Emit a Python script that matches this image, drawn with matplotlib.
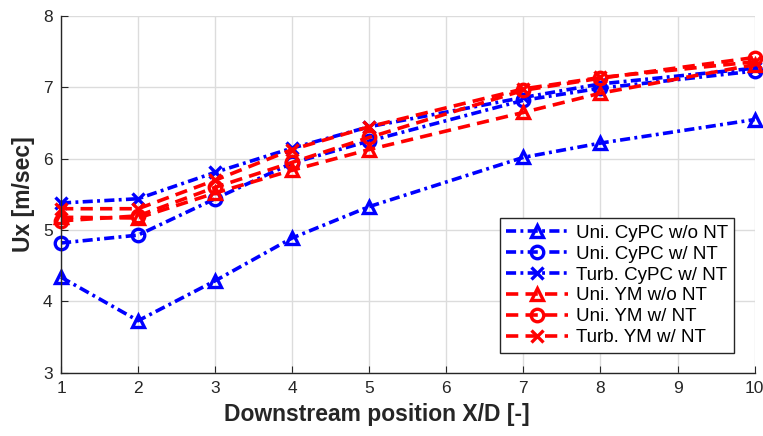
import matplotlib
matplotlib.use("Agg")
import matplotlib.pyplot as plt

plt.rcParams['font.family'] = ['Liberation Sans', 'DejaVu Sans']

# downstream positions X/D
x_pos = [1, 2, 3, 4, 5, 7, 8, 10]

# CyPC model (blue, dash-dot)
uni_cypc_wo_nt = [4.34, 3.73, 4.29, 4.89, 5.33, 6.02, 6.22, 6.55]
uni_cypc_w_nt = [4.82, 4.93, 5.44, 5.94, 6.25, 6.82, 6.99, 7.23]
turb_cypc_w_nt = [5.38, 5.44, 5.81, 6.15, 6.45, 6.86, 7.05, 7.27]

# YM model (red, dashed)
uni_ym_wo_nt = [5.18, 5.17, 5.52, 5.84, 6.13, 6.65, 6.92, 7.32]
uni_ym_w_nt = [5.13, 5.20, 5.60, 5.95, 6.30, 6.96, 7.13, 7.42]
turb_ym_w_nt = [5.30, 5.30, 5.70, 6.13, 6.45, 6.98, 7.14, 7.36]

dashdot = (0, (2.8, 1.2, 0.8, 1.2))
dashed = (0, (3.4, 2.0))

series = [
    ("Uni. CyPC w/o NT", uni_cypc_wo_nt, 'blue', dashdot, '^'),
    ("Uni. CyPC w/ NT", uni_cypc_w_nt, 'blue', dashdot, 'o'),
    ("Turb. CyPC w/ NT", turb_cypc_w_nt, 'blue', dashdot, 'x'),
    ("Uni. YM w/o NT", uni_ym_wo_nt, 'red', dashed, '^'),
    ("Uni. YM w/ NT", uni_ym_w_nt, 'red', dashed, 'o'),
    ("Turb. YM w/ NT", turb_ym_w_nt, 'red', dashed, 'x'),
]

fig = plt.figure(figsize=(7.63, 4.36), dpi=100)
ax = fig.add_axes([0.080, 0.145, 0.909, 0.818])

for label, vals, col, ls, mk in series:
    ax.plot(x_pos, vals, color=col, linestyle=ls, linewidth=2.6, marker=mk,
            markersize=9, markerfacecolor='none', markeredgewidth=2.4,
            label=label, clip_on=False)

ax.set_xlim(1, 10)
ax.set_ylim(3, 8)
ax.set_xticks(range(1, 11))
ax.set_yticks(range(3, 9))
ax.grid(True, color='#dcdcdc', linewidth=1.0)
ax.set_axisbelow(True)
ax.spines['top'].set_visible(False)
ax.spines['right'].set_visible(False)
for s in ['left', 'bottom']:
    ax.spines[s].set_color('#262626')
    ax.spines[s].set_linewidth(1.0)
ax.tick_params(direction='in', length=5, labelsize=12.5, colors='#262626', pad=6)

ax.set_xlabel('Downstream position X/D [-]', fontsize=16.5, fontweight='bold', color='#262626')
ax.xaxis.set_label_coords(0.455, -0.085)
ax.set_ylabel('Ux [m/sec]', fontsize=16.5, fontweight='bold', color='#262626', labelpad=6)

leg = ax.legend(loc='lower right', bbox_to_anchor=(0.971, 0.056), borderaxespad=0,
                fontsize=13.5, fancybox=False, edgecolor='#262626', framealpha=1,
                handlelength=3.3, labelspacing=0.2, borderpad=0.35, handletextpad=0.4)
leg.get_frame().set_linewidth(1.0)

fig.savefig('out.png', dpi=100)
